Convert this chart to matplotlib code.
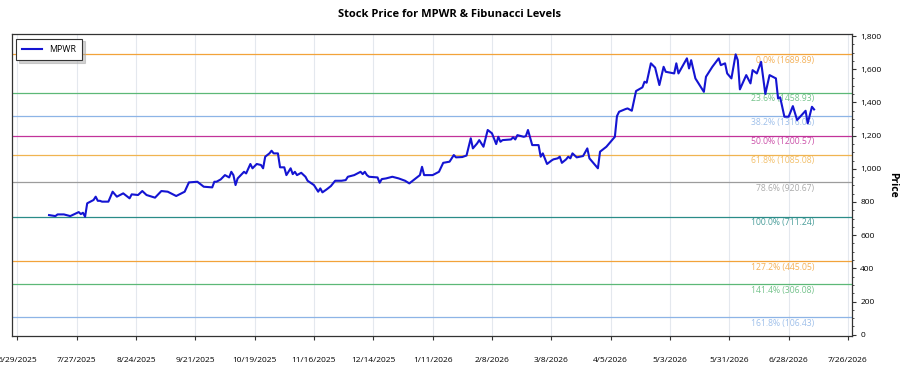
import matplotlib
matplotlib.use("Agg")
import matplotlib.pyplot as plt
import matplotlib.dates as mdates
from matplotlib.ticker import FuncFormatter, MultipleLocator
import pandas as pd

plt.rcParams['font.family'] = ['Open Sans', 'DejaVu Sans']

ticker = "MPWR"
dates = [
    "2025-07-14", "2025-07-17", "2025-07-18", "2025-07-21", "2025-07-24", "2025-07-25",
    "2025-07-28", "2025-07-29", "2025-07-30", "2025-07-31", "2025-08-01", "2025-08-04",
    "2025-08-05", "2025-08-06", "2025-08-07", "2025-08-08", "2025-08-11", "2025-08-13",
    "2025-08-15", "2025-08-18", "2025-08-21", "2025-08-22", "2025-08-25", "2025-08-27",
    "2025-08-29", "2025-09-02", "2025-09-05", "2025-09-08", "2025-09-12", "2025-09-16",
    "2025-09-18", "2025-09-22", "2025-09-25", "2025-09-29", "2025-09-30", "2025-10-01",
    "2025-10-03", "2025-10-05", "2025-10-07", "2025-10-08", "2025-10-09", "2025-10-10",
    "2025-10-11", "2025-10-14", "2025-10-15", "2025-10-17", "2025-10-18", "2025-10-20",
    "2025-10-22", "2025-10-23", "2025-10-24", "2025-10-26", "2025-10-27", "2025-10-28",
    "2025-10-30", "2025-10-31", "2025-11-02", "2025-11-03", "2025-11-05", "2025-11-06",
    "2025-11-07", "2025-11-08", "2025-11-10", "2025-11-12", "2025-11-13", "2025-11-16",
    "2025-11-17", "2025-11-18", "2025-11-19", "2025-11-20", "2025-11-22", "2025-11-24",
    "2025-11-26", "2025-11-29", "2025-12-01", "2025-12-02", "2025-12-05", "2025-12-08",
    "2025-12-09", "2025-12-10", "2025-12-11", "2025-12-12", "2025-12-16", "2025-12-17",
    "2025-12-18", "2025-12-20", "2025-12-23", "2025-12-26", "2025-12-29", "2025-12-31",
    "2026-01-02", "2026-01-04", "2026-01-05", "2026-01-06", "2026-01-07", "2026-01-11",
    "2026-01-14", "2026-01-16", "2026-01-19", "2026-01-21", "2026-01-22", "2026-01-25",
    "2026-01-27", "2026-01-28", "2026-01-29", "2026-01-30", "2026-02-01", "2026-02-02",
    "2026-02-04", "2026-02-06", "2026-02-08", "2026-02-10", "2026-02-11", "2026-02-12",
    "2026-02-13", "2026-02-17", "2026-02-18", "2026-02-19", "2026-02-20", "2026-02-23",
    "2026-02-24", "2026-02-25", "2026-02-27", "2026-03-02", "2026-03-03", "2026-03-04",
    "2026-03-06", "2026-03-08", "2026-03-09", "2026-03-11", "2026-03-12", "2026-03-13",
    "2026-03-15", "2026-03-16", "2026-03-17", "2026-03-18", "2026-03-20", "2026-03-23",
    "2026-03-25", "2026-03-26", "2026-03-28", "2026-03-30", "2026-03-31", "2026-04-02",
    "2026-04-03", "2026-04-07", "2026-04-08", "2026-04-09", "2026-04-12", "2026-04-13",
    "2026-04-15", "2026-04-17", "2026-04-20", "2026-04-21", "2026-04-22", "2026-04-24",
    "2026-04-26", "2026-04-28", "2026-04-30", "2026-05-01", "2026-05-05", "2026-05-06",
    "2026-05-07", "2026-05-11", "2026-05-12", "2026-05-13", "2026-05-15", "2026-05-19",
    "2026-05-20", "2026-05-23", "2026-05-26", "2026-05-27", "2026-05-29", "2026-05-30",
    "2026-06-01", "2026-06-03", "2026-06-04", "2026-06-05", "2026-06-08", "2026-06-10",
    "2026-06-11", "2026-06-13", "2026-06-15", "2026-06-17", "2026-06-19", "2026-06-22",
    "2026-06-23", "2026-06-24", "2026-06-26", "2026-06-28", "2026-06-30", "2026-07-02",
    "2026-07-06", "2026-07-07", "2026-07-09", "2026-07-10",
]
prices = [
    721, 715, 725, 725, 715, 721,
    739, 727, 735, 711.24, 792, 812,
    832, 807, 807, 802, 802, 862,
    832, 852, 822, 846, 842, 866,
    842, 826, 866, 862, 836, 862,
    918, 922, 892, 888, 922, 922,
    936, 962, 948, 982, 962, 902,
    942, 982, 972, 1029, 1003, 1029,
    1023, 1003, 1073, 1093, 1109, 1093,
    1093, 1009, 1009, 962, 1003, 968,
    982, 962, 976, 952, 928, 902,
    882, 862, 882, 858, 876, 896,
    928, 928, 932, 952, 962, 982,
    968, 982, 962, 952, 948, 916,
    938, 942, 952, 942, 928, 912,
    932, 952, 962, 1012, 962, 962,
    982, 1036, 1043, 1083, 1069, 1071,
    1080, 1133, 1184, 1123, 1153, 1173,
    1133, 1234, 1214, 1149, 1193, 1163,
    1173, 1177, 1190, 1177, 1203, 1193,
    1197, 1234, 1143, 1143, 1073, 1093,
    1029, 1049, 1057, 1063, 1073, 1036,
    1057, 1073, 1063, 1093, 1069, 1077,
    1123, 1063, 1033, 1003, 1103, 1123,
    1133, 1193, 1318, 1344, 1360, 1364,
    1350, 1469, 1491, 1525, 1519, 1636,
    1610, 1505, 1615, 1585, 1575, 1636,
    1575, 1666, 1605, 1655, 1545, 1464,
    1555, 1615, 1666, 1625, 1636, 1575,
    1545, 1689.89, 1655, 1479, 1565, 1515,
    1595, 1575, 1645, 1451, 1565, 1545,
    1425, 1431, 1314, 1314, 1378, 1294,
    1350, 1274, 1374, 1358,
]

fib_pcts = ["0.0%", "23.6%", "38.2%", "50.0%", "61.8%", "78.6%",
            "100.0%", "127.2%", "141.4%", "161.8%"]
fib_values = [1689.89, 1458.93, 1316.06, 1200.57, 1085.08, 920.67,
              711.24, 445.05, 306.08, 106.43]
fib_colors = ["#F2A33A", "#5CB877", "#8DB4E6", "#C2339A", "#F0B450",
              "#9C9C9C", "#2A8C88", "#F2A33A", "#5CB877", "#8DB4E6"]

xtick_dates = pd.date_range("2025-06-29", "2026-07-26", freq="28D")

x = pd.to_datetime(dates)

fig = plt.figure(figsize=(9, 3.75), dpi=100)
ax = fig.add_axes([0.0133, 0.104, 0.9334, 0.805])

ax.grid(axis="x", color="#E4E8EE", linewidth=0.8)
ax.set_axisbelow(True)

for pct, val, col in zip(fib_pcts, fib_values, fib_colors):
    ax.axhline(val, color=col, linewidth=0.9, zorder=2)
    ax.annotate(f"{pct} ({val:.2f})", xy=(x[-1], val), xytext=(0, -4.5),
                textcoords="offset points", ha="right", va="center",
                fontsize=6.2, color=col, alpha=0.85, zorder=3)

ax.plot(x, prices, color="#1414D2", linewidth=1.5, label=ticker, zorder=4)

ax.set_xlim(pd.Timestamp("2025-06-26 12:00"), pd.Timestamp("2026-07-27 22:00"))
ax.set_ylim(-8, 1812)

ax.set_xticks(xtick_dates)
ax.xaxis.set_major_formatter(FuncFormatter(
    lambda v, p: f"{mdates.num2date(v).month}/{mdates.num2date(v).day}/{mdates.num2date(v).year}"))
ax.tick_params(axis="x", labelsize=6, length=3, pad=12, color="#333333")

ax.yaxis.tick_right()
ax.yaxis.set_label_position("right")
ax.set_yticks(range(0, 1801, 200))
ax.yaxis.set_minor_locator(MultipleLocator(50))
ax.yaxis.set_major_formatter(FuncFormatter(lambda v, p: f"{int(v):,}"))
ax.tick_params(axis="y", which="major", labelsize=6, length=3, pad=3, color="#333333")
ax.tick_params(axis="y", which="minor", length=1.5, color="#333333")
ax.set_ylabel("Price", fontsize=7.5, fontweight="bold", rotation=270, labelpad=12)

for s in ax.spines.values():
    s.set_color("#333333")
    s.set_linewidth(0.9)

fig.suptitle("Stock Price for MPWR & Fibunacci Levels", x=0.5, y=0.975,
             fontsize=8, fontweight="bold")

leg = ax.legend(loc="upper left", fontsize=6.3, fancybox=False,
                shadow={"shade": 0.35}, edgecolor="#333333", framealpha=1,
                borderaxespad=0.5, handlelength=2.2, borderpad=0.7)
leg.get_frame().set_linewidth(0.8)

fig.savefig("out.png", dpi=100)
